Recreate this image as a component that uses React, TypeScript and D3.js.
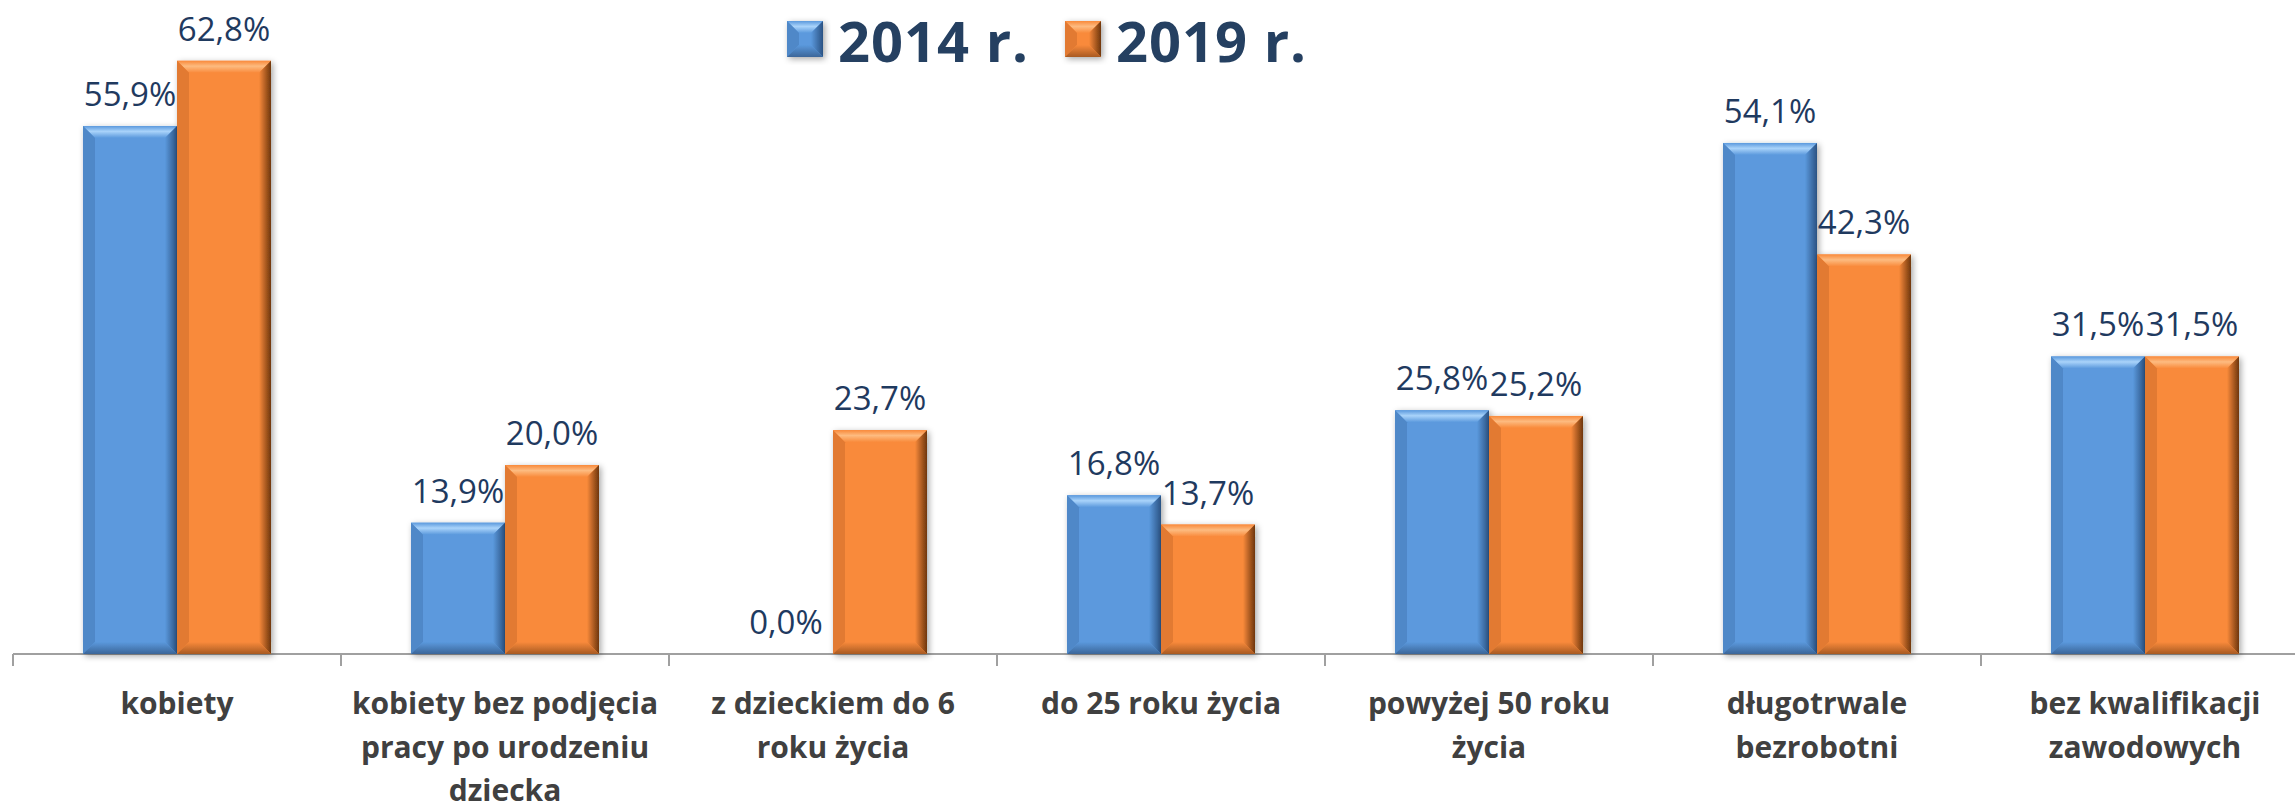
import React from "react";
import * as d3 from "d3";

const categories = [
  "kobiety",
  "kobiety bez podjęcia\npracy po urodzeniu\ndziecka",
  "z dzieckiem do 6\nroku życia",
  "do 25 roku życia",
  "powyżej 50 roku\nżycia",
  "długotrwale\nbezrobotni",
  "bez kwalifikacji\nzawodowych",
];
const seriesNames = ["2014 r.", "2019 r."];
const values2014 = [55.9, 13.9, 0.0, 16.8, 25.8, 54.1, 31.5];
const values2019 = [62.8, 20.0, 23.7, 13.7, 25.2, 42.3, 31.5];

const W = 2295;
const H = 809;

const palettes = [
  { base: "#5B99DD", light: "#A9D3FA", left: "#4F88C8", right: "#2A5283", bottom: "#3B6699" },
  { base: "#F98A3B", light: "#FDBB80", left: "#E27A30", right: "#6E360C", bottom: "#A85A22" },
];

function BevelRect({ x, y, w, h, p, id }: any) {
  if (h <= 0) return null;
  const b = Math.min(12, h / 2, w / 2);
  const x2 = x + w;
  const y2 = y + h;
  const pts = (a: number[][]) => a.map((q) => q.join(",")).join(" ");
  return (
    <g filter="url(#shadow)">
      <rect x={x} y={y} width={w} height={h} fill={p.base} />
      <polygon points={pts([[x, y], [x2, y], [x2 - b, y + b], [x + b, y + b]])} fill={`url(#top${id})`} />
      <polygon points={pts([[x, y], [x + b, y + b], [x + b, y2 - b], [x, y2]])} fill={p.left} />
      <polygon points={pts([[x2, y], [x2, y2], [x2 - b, y2 - b], [x2 - b, y + b]])} fill={`url(#right${id})`} />
      <polygon points={pts([[x, y2], [x2, y2], [x2 - b, y2 - b], [x + b, y2 - b]])} fill={`url(#bot${id})`} />
    </g>
  );
}

export default function App() {
  const left = 13;
  const step = 328;
  const x0 = d3
    .scaleBand<string>()
    .domain(categories)
    .range([left, left + step * categories.length])
    .paddingInner(0.4268)
    .paddingOuter(0.2134);
  const x1 = d3.scaleBand<string>().domain(seriesNames).range([0, x0.bandwidth()]);
  const y0 = 654;
  const y = d3.scaleLinear().domain([0, 70]).range([y0, y0 - 70 * 9.446]);
  const series = [values2014, values2019];

  const ticks = d3.range(categories.length + 1).map((i) => left + i * x0.step());

  return (
    <svg width={W} height={H} style={{ position: "absolute", left: 0, top: 0, background: "#fff" }}>
      <defs>
        <filter id="shadow" x="-20%" y="-20%" width="140%" height="140%">
          <feDropShadow dx="2" dy="2" stdDeviation="3" floodColor="#000" floodOpacity="0.35" />
        </filter>
        {palettes.map((p, i) => (
          <React.Fragment key={i}>
            <linearGradient id={`top${i}`} x1="0" y1="0" x2="0" y2="1">
              <stop offset="0" stopColor={p.base} />
              <stop offset="0.45" stopColor={p.light} />
              <stop offset="1" stopColor={p.base} />
            </linearGradient>
            <linearGradient id={`right${i}`} x1="0" y1="0" x2="1" y2="0">
              <stop offset="0" stopColor={p.base} />
              <stop offset="1" stopColor={p.right} />
            </linearGradient>
            <linearGradient id={`bot${i}`} x1="0" y1="0" x2="0" y2="1">
              <stop offset="0" stopColor={p.base} />
              <stop offset="1" stopColor={p.bottom} />
            </linearGradient>
          </React.Fragment>
        ))}
      </defs>

      {/* axis */}
      <line x1={left} x2={W} y1={y0} y2={y0} stroke="#A0A0A0" strokeWidth={2} />
      {ticks.map((t, i) => (
        <line key={i} x1={t} x2={t} y1={y0} y2={y0 + 12} stroke="#A0A0A0" strokeWidth={2} />
      ))}

      {/* bars */}
      {categories.map((c, ci) =>
        series.map((vals, si) => {
          const bx = (x0(c) as number) + (x1(seriesNames[si]) as number);
          const bw = x1.bandwidth();
          const top = y(vals[ci]);
          return (
            <BevelRect key={`${ci}-${si}`} x={bx} y={top} w={bw} h={y0 - top} p={palettes[si]} id={si} />
          );
        })
      )}

      {/* value labels */}
      {categories.map((c, ci) =>
        series.map((vals, si) => {
          const bx = (x0(c) as number) + (x1(seriesNames[si]) as number) + x1.bandwidth() / 2;
          const top = y(vals[ci]);
          return (
            <text
              key={`l${ci}-${si}`}
              x={bx}
              y={top - 20}
              textAnchor="middle"
              fontFamily="'Open Sans', sans-serif"
              fontSize={33}
              fill="#1F3A5F"
            >
              {vals[ci].toFixed(1).replace(".", ",") + "%"}
            </text>
          );
        })
      )}

      {/* category labels */}
      {categories.map((c, ci) => {
        const cx = (x0(c) as number) + x0.bandwidth() / 2;
        return (
          <text
            key={`c${ci}`}
            textAnchor="middle"
            fontFamily="'Open Sans', sans-serif"
            fontWeight="bold"
            fontSize={30}
            fill="#404040"
          >
            {c.split("\n").map((line, li) => (
              <tspan key={li} x={cx} y={714 + li * 43.5}>
                {line}
              </tspan>
            ))}
          </text>
        );
      })}

      {/* legend */}
      {seriesNames.map((s, si) => {
        const lx = [787, 1065][si];
        return (
          <g key={`lg${si}`}>
            <BevelRect x={lx} y={21} w={36} h={36} p={palettes[si]} id={si} />
            <text
              x={lx + 51}
              y={62}
              fontFamily="'Open Sans', sans-serif"
              fontWeight="bold"
              fontSize={56}
              letterSpacing={1}
              fill="#254061"
            >
              {s}
            </text>
          </g>
        );
      })}
    </svg>
  );
}
